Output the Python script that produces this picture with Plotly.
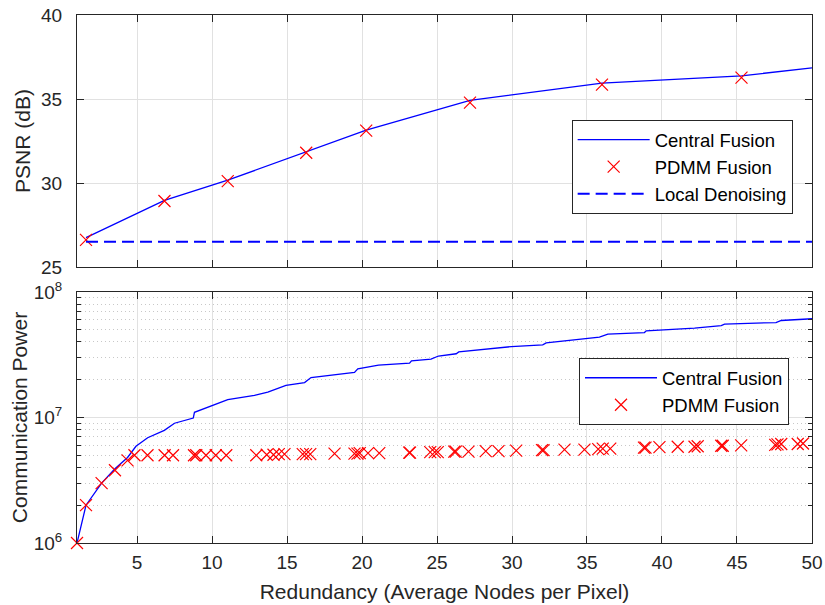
import plotly.graph_objects as go
from plotly.subplots import make_subplots

# ---- PSNR versus redundancy ----
central_x_top = [1.6, 6.83, 11.05, 16.28, 20.28, 27.2, 36.0, 45.3, 50.0]
central_psnr = [26.75, 28.97, 30.17, 31.85, 33.15, 34.92, 35.95, 36.38, 36.85]
pdmm_x_top = [1.6, 6.83, 11.05, 16.28, 20.28, 27.2, 36.0, 45.3]
pdmm_psnr = [26.62, 28.93, 30.11, 31.8, 33.12, 34.78, 35.86, 36.27]
local_x = [1.6, 50.0]
local_psnr = [26.5, 26.5]

# ---- Communication power versus redundancy ----
central_x_bot = [1.0, 1.6, 2.64, 3.53, 4.37, 4.93, 5.71, 6.82, 7.5, 8.75, 8.83,
                 9.95, 11.05, 12.83, 13.72, 14.93, 16.17, 16.6, 17.5, 19.5, 19.72,
                 21.1, 23.17, 23.3, 24.6, 25.1, 26.28, 26.45, 29.95, 32.05, 32.28,
                 33.55, 35.83, 36.39, 38.83, 38.95, 42.17, 43.95, 44.17, 47.6,
                 47.95, 50.0]
central_power = [1.0e6, 2.0e6, 3.0e6, 3.9e6, 4.8e6, 5.9e6, 6.9e6, 7.9e6, 9.0e6,
                 9.9e6, 1.1e7, 1.24e7, 1.39e7, 1.5e7, 1.59e7, 1.8e7, 1.9e7,
                 2.08e7, 2.15e7, 2.29e7, 2.44e7, 2.61e7, 2.71e7, 2.83e7, 2.92e7,
                 3.09e7, 3.22e7, 3.33e7, 3.67e7, 3.79e7, 3.93e7, 4.09e7, 4.37e7,
                 4.62e7, 4.75e7, 4.9e7, 5.15e7, 5.4e7, 5.55e7, 5.71e7, 5.93e7,
                 6.12e7]

pdmm_x_bot = [1.0, 1.6, 2.64, 3.53, 4.37, 4.83, 5.7, 6.84, 7.4, 8.8, 8.95, 9.6,
              10.25, 10.95, 12.95, 13.65, 14.1, 14.45, 14.83, 16.05, 16.27, 16.55,
              18.17, 19.5, 19.7, 19.85, 20.4, 21.15, 23.15, 23.2, 24.55, 24.85,
              25.05, 26.15, 26.25, 27.1, 28.25, 29.1, 30.28, 32.0, 32.1, 33.5,
              34.83, 35.75, 36.05, 36.55, 38.8, 38.9, 39.83, 41.05, 42.17, 42.38,
              43.95, 44.05, 45.28, 47.55, 47.7, 47.95, 49.05, 49.4]
pdmm_power = [1.0e6, 2.0e6, 3.0e6, 3.8e6, 4.55e6, 5.0e6, 5.0e6, 5.0e6, 5.0e6,
              5.0e6, 5.0e6, 5.0e6, 5.0e6, 5.0e6, 5.0e6, 5.05e6, 5.05e6, 5.1e6,
              5.1e6, 5.1e6, 5.1e6, 5.1e6, 5.15e6, 5.15e6, 5.15e6, 5.2e6, 5.2e6,
              5.2e6, 5.25e6, 5.25e6, 5.3e6, 5.3e6, 5.3e6, 5.35e6, 5.35e6, 5.35e6,
              5.4e6, 5.4e6, 5.45e6, 5.5e6, 5.5e6, 5.55e6, 5.55e6, 5.6e6, 5.65e6,
              5.65e6, 5.75e6, 5.75e6, 5.8e6, 5.85e6, 5.85e6, 5.9e6, 5.95e6, 5.95e6,
              6.0e6, 6.05e6, 6.1e6, 6.15e6, 6.15e6, 6.2e6]

power_ticks = [1e6, 1e7, 1e8]
power_ticktext = ["10<sup>6</sup>", "10<sup>7</sup>", "10<sup>8</sup>"]
power_minor = [k * 10 ** d for d in (6, 7) for k in range(2, 10)]

BLUE = "#0000ff"
RED = "#ff0000"
INK = "#262626"
GRID = "#e1e1e1"
FONT = "Liberation Sans, Arial, Helvetica, sans-serif"

fig = make_subplots(rows=2, cols=1)

x_marker = dict(symbol="x-thin", size=12, color=RED, line=dict(color=RED, width=1.2))

fig.add_trace(go.Scatter(x=central_x_top, y=central_psnr, mode="lines",
                         name="Central Fusion", line=dict(color=BLUE, width=1.3),
                         legend="legend"), row=1, col=1)
fig.add_trace(go.Scatter(x=pdmm_x_top, y=pdmm_psnr, mode="markers",
                         name="PDMM Fusion", marker=x_marker, cliponaxis=False,
                         legend="legend"), row=1, col=1)
fig.add_trace(go.Scatter(x=local_x, y=local_psnr, mode="lines",
                         name="Local Denoising",
                         line=dict(color=BLUE, width=2, dash="12px,6px"),
                         legend="legend"), row=1, col=1)

fig.add_trace(go.Scatter(x=central_x_bot, y=central_power, mode="lines",
                         name="Central Fusion", line=dict(color=BLUE, width=1.3),
                         legend="legend2"), row=2, col=1)
fig.add_trace(go.Scatter(x=pdmm_x_bot, y=pdmm_power, mode="markers",
                         name="PDMM Fusion", marker=x_marker, cliponaxis=False,
                         legend="legend2"), row=2, col=1)

axis_common = dict(showline=True, linecolor=INK, linewidth=1, mirror="ticks",
                   ticks="inside", ticklen=7, tickcolor=INK, tickwidth=1,
                   showgrid=True, gridcolor=GRID, gridwidth=1, zeroline=False,
                   automargin=False,
                   tickfont=dict(family=FONT, size=19, color=INK))

fig.update_xaxes(range=[0.999, 50.001], tick0=0, dtick=5, **axis_common)
fig.update_xaxes(showticklabels=False, row=1, col=1)
fig.update_xaxes(title=dict(text="Redundancy (Average Nodes per Pixel)",
                            font=dict(family=FONT, size=21, color=INK), standoff=12),
                 ticklabelstandoff=2, row=2, col=1)

fig.update_yaxes(range=[25, 40], tick0=25, dtick=5, domain=[0.5227, 1.0],
                 ticklabelstandoff=10,
                 title=dict(text="PSNR (dB)", standoff=4,
                            font=dict(family=FONT, size=21, color=INK)),
                 row=1, col=1, **axis_common)
fig.update_yaxes(type="log", range=[5.9998, 8.0002], tickmode="array",
                 tickvals=power_ticks, ticktext=power_ticktext, domain=[0.0, 0.4754],
                 ticklabelstandoff=10,
                 minor=dict(tickmode="array", tickvals=power_minor, ticks="inside",
                            ticklen=4, tickcolor=INK, showgrid=True,
                            gridcolor="#c8c8c8", griddash="1px,3px"),
                 title=dict(text="Communication Power", standoff=0,
                            font=dict(family=FONT, size=21, color=INK)),
                 row=2, col=1, **axis_common)

legend_common = dict(xanchor="left", yanchor="top", bgcolor="white",
                     bordercolor=INK, borderwidth=1, itemwidth=72,
                     font=dict(family=FONT, size=18.5, color="#000000"),
                     tracegroupgap=0)

fig.update_layout(
    width=825, height=605,
    margin=dict(l=77, r=13, t=15, b=62),
    paper_bgcolor="white", plot_bgcolor="white",
    font=dict(family=FONT, color=INK),
    showlegend=True,
    legend=dict(x=0.673, y=0.801, **legend_common),
    legend2=dict(x=0.683, y=0.350, **legend_common),
)

fig.write_html("out.html")
